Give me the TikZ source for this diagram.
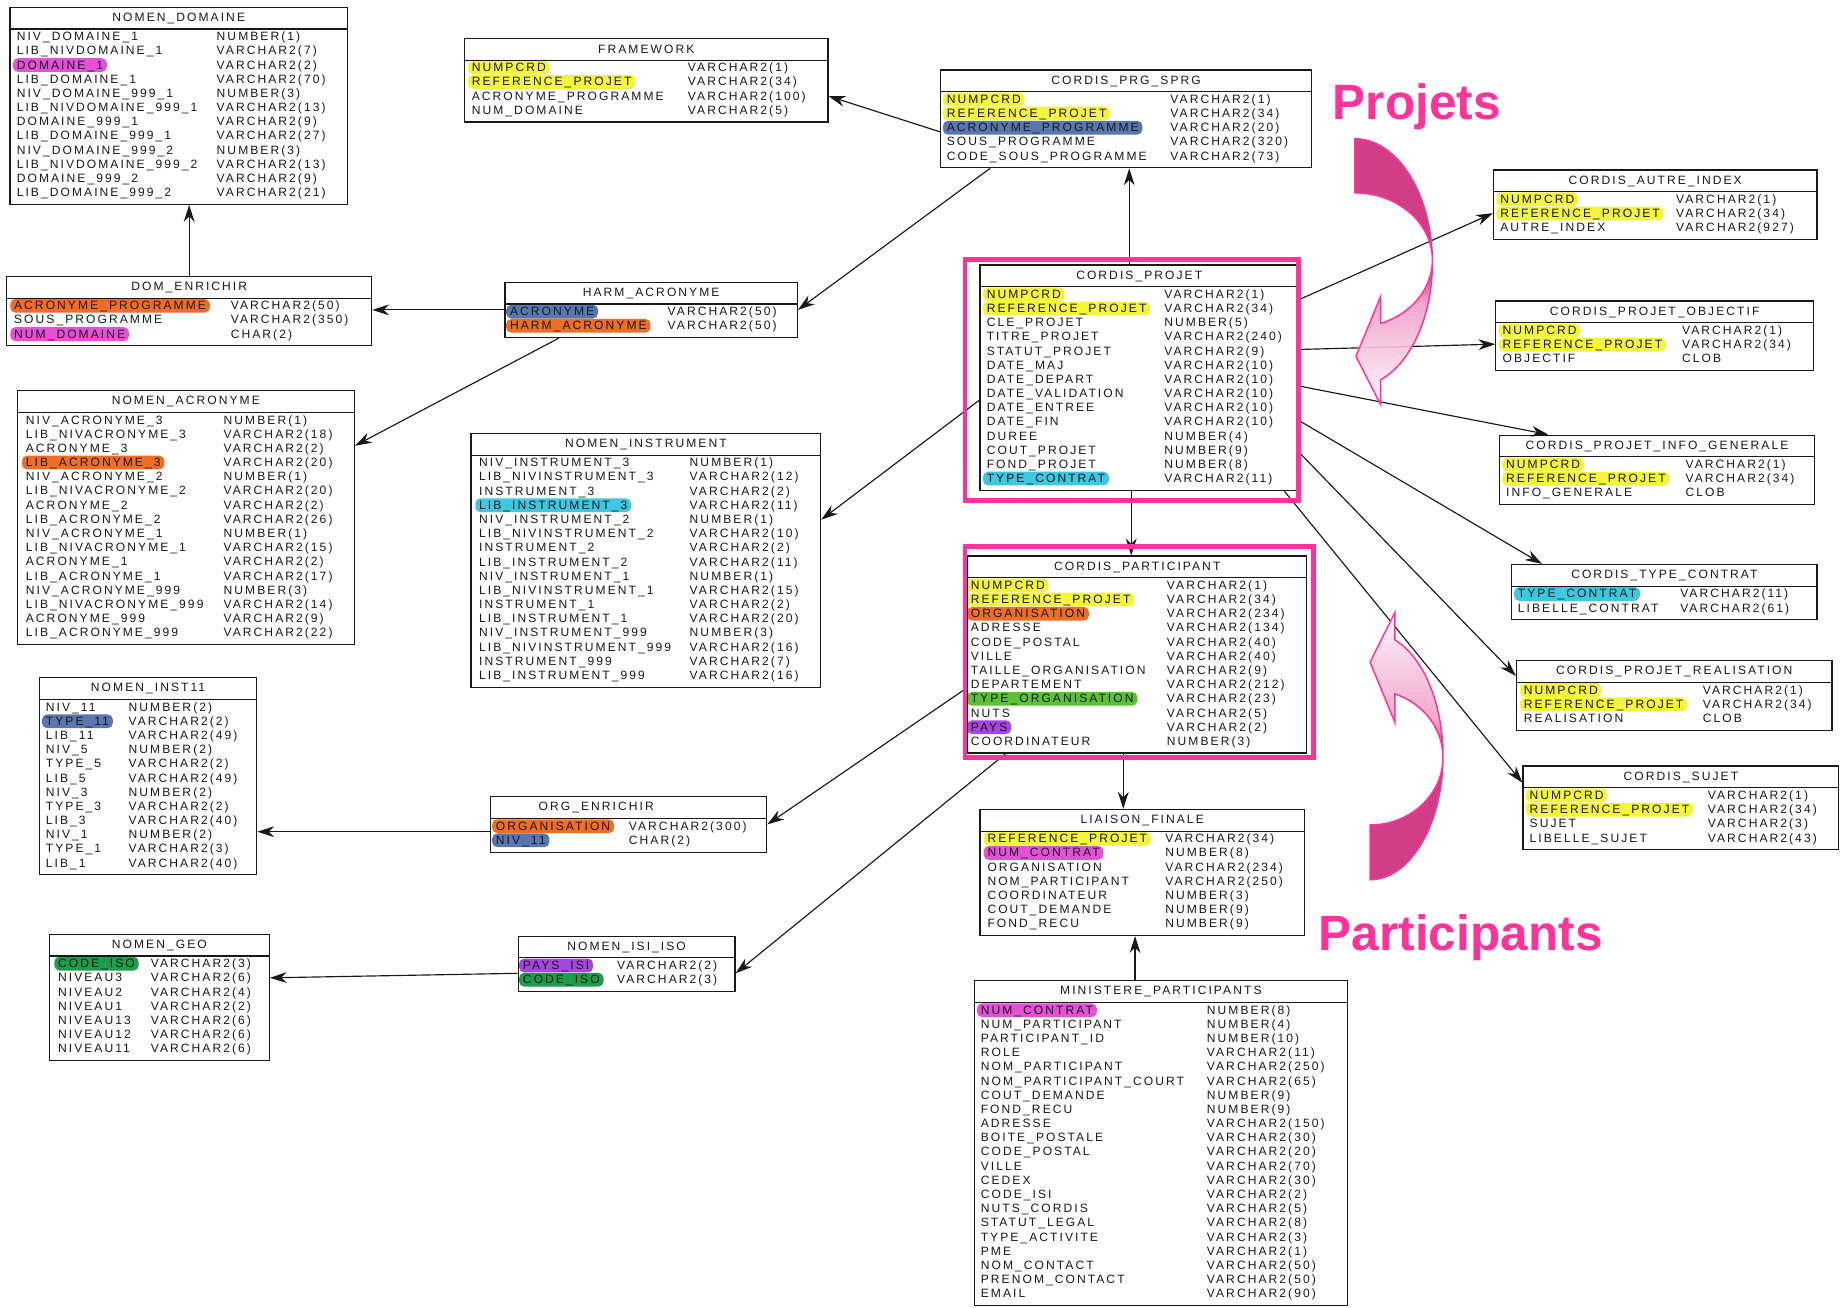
\documentclass[tikz,border=0pt]{standalone}
\usepackage{fontspec}
\setmainfont{Liberation Sans}
\newfontfamily\tabfamily[LetterSpace=17]{Liberation Sans}
\usetikzlibrary{arrows.meta,fit,calc}

\definecolor{ink}{RGB}{25,25,25}
\definecolor{hlyellow}{RGB}{244,244,60}
\definecolor{hlpink}{RGB}{228,80,215}
\definecolor{hlorange}{RGB}{240,110,35}
\definecolor{hlblue}{RGB}{90,118,175}
\definecolor{hlcyan}{RGB}{60,200,225}
\definecolor{hlgreen}{RGB}{90,195,50}
\definecolor{hlpurple}{RGB}{165,70,225}
\definecolor{hldkgreen}{RGB}{30,155,75}
\definecolor{framepink}{RGB}{255,51,153}
\definecolor{arrowdark}{RGB}{204,42,122}
\definecolor{arrowmid}{RGB}{240,160,200}
\definecolor{arrowlight}{RGB}{255,244,249}

\pgfdeclareverticalshading{projfade}{100bp}{color(0bp)=(arrowlight); color(25bp)=(arrowlight); color(44bp)=(arrowmid); color(50bp)=(arrowdark); color(100bp)=(arrowdark)}
\pgfdeclareverticalshading{partfade}{100bp}{color(0bp)=(arrowdark); color(49bp)=(arrowdark); color(55bp)=(arrowmid); color(75bp)=(arrowlight); color(100bp)=(arrowlight)}

\newcommand\tabfont{\tabfamily\fontsize{7.3}{8}\selectfont}
\newcommand\rowpitch{12.05}

% #1 name, #2 left, #3 top, #4 right, #5 field x, #6 type x, #7 title x, #8 title, #9 rows
\newcommand\dbtable[9]{%
  \foreach \fname/\ftype/\fhl [count=\rowi] in {#9} {
    \node[fieldname, fill=\fhl] at ({#5},{#3+25+(\rowi-1)*\rowpitch}) {\fname};
    \node[fieldtype] at ({#6},{#3+25+(\rowi-1)*\rowpitch}) {\ftype};
    \xdef\nrows{\rowi}
  }
  \pgfmathsetmacro\tbottom{#3+35+(\nrows-1)*\rowpitch}
  \node[tablebox, fit={(#2,#3) (#4,\tbottom)}] (#1) {};
  \draw[tableline] (#2,#3+18.5) -- (#4,#3+18.5);
  \node[tabletitle] at (#7,#3+9.5) {#8};
}

\tikzset{
  fieldname/.style={anchor=west, xshift=-2pt, inner xsep=2.3pt, inner ysep=1.3pt, rounded corners=3pt,
    text height=5.3pt, text depth=0.4pt, font=\tabfont, text=ink},
  fieldtype/.style={anchor=west, inner sep=0pt, text height=5.3pt, text depth=0.4pt, font=\tabfont, text=ink},
  tablebox/.style={draw=ink, line width=0.7pt, inner sep=0pt},
  tableline/.style={draw=ink, line width=0.7pt},
  tabletitle/.style={font=\tabfont, text=ink, inner sep=0pt},
  fk/.style={draw=ink, line width=0.7pt, -{Stealth[length=3.6mm, width=2.3mm]}},
  pinkframe/.style={draw=framepink, line width=2.8pt},
  banner/.style={font=\bfseries\fontsize{30}{34}\selectfont, text=framepink, inner sep=0pt, anchor=base west},
}

\begin{document}
\begin{tikzpicture}[x=0.025cm, y=-0.025cm]
  \useasboundingbox[fill=white] (0,0) rectangle (1568,1112);

  % nomenclatures, left side
  \dbtable{domaine}{8.5}{6.2}{295.5}{13.6}{184}{152}{NOMEN\_DOMAINE}{
    NIV\_DOMAINE\_1/NUMBER(1)/none,
    LIB\_NIVDOMAINE\_1/VARCHAR2(7)/none,
    DOMAINE\_1/VARCHAR2(2)/hlpink,
    LIB\_DOMAINE\_1/VARCHAR2(70)/none,
    NIV\_DOMAINE\_999\_1/NUMBER(3)/none,
    LIB\_NIVDOMAINE\_999\_1/VARCHAR2(13)/none,
    DOMAINE\_999\_1/VARCHAR2(9)/none,
    LIB\_DOMAINE\_999\_1/VARCHAR2(27)/none,
    NIV\_DOMAINE\_999\_2/NUMBER(3)/none,
    LIB\_NIVDOMAINE\_999\_2/VARCHAR2(13)/none,
    DOMAINE\_999\_2/VARCHAR2(9)/none,
    LIB\_DOMAINE\_999\_2/VARCHAR2(21)/none}

  \dbtable{domenr}{5.7}{235}{316}{11.3}{196}{160.9}{DOM\_ENRICHIR}{
    ACRONYME\_PROGRAMME/VARCHAR2(50)/hlorange,
    SOUS\_PROGRAMME/VARCHAR2(350)/none,
    NUM\_DOMAINE/CHAR(2)/hlpink}

  \dbtable{framework}{395}{32.6}{704}{400.5}{584.7}{549.5}{FRAMEWORK}{
    NUMPCRD/VARCHAR2(1)/hlyellow,
    REFERENCE\_PROJET/VARCHAR2(34)/hlyellow,
    ACRONYME\_PROGRAMME/VARCHAR2(100)/none,
    NUM\_DOMAINE/VARCHAR2(5)/none}

  \dbtable{prg}{800}{59.5}{1115}{804.4}{995}{957.5}{CORDIS\_PRG\_SPRG}{
    NUMPCRD/VARCHAR2(1)/hlyellow,
    REFERENCE\_PROJET/VARCHAR2(34)/hlyellow,
    ACRONYME\_PROGRAMME/VARCHAR2(20)/hlblue,
    SOUS\_PROGRAMME/VARCHAR2(320)/none,
    CODE\_SOUS\_PROGRAMME/VARCHAR2(73)/none}

  \dbtable{harm}{429.4}{240}{678}{433}{567.5}{553.7}{HARM\_ACRONYME}{
    ACRONYME/VARCHAR2(50)/hlblue,
    HARM\_ACRONYME/VARCHAR2(50)/hlorange}

  \dbtable{acronyme}{14.7}{332.2}{301.3}{21.3}{189.9}{158}{NOMEN\_ACRONYME}{
    NIV\_ACRONYME\_3/NUMBER(1)/none,
    LIB\_NIVACRONYME\_3/VARCHAR2(18)/none,
    ACRONYME\_3/VARCHAR2(2)/none,
    LIB\_ACRONYME\_3/VARCHAR2(20)/hlorange,
    NIV\_ACRONYME\_2/NUMBER(1)/none,
    LIB\_NIVACRONYME\_2/VARCHAR2(20)/none,
    ACRONYME\_2/VARCHAR2(2)/none,
    LIB\_ACRONYME\_2/VARCHAR2(26)/none,
    NIV\_ACRONYME\_1/NUMBER(1)/none,
    LIB\_NIVACRONYME\_1/VARCHAR2(15)/none,
    ACRONYME\_1/VARCHAR2(2)/none,
    LIB\_ACRONYME\_1/VARCHAR2(17)/none,
    NIV\_ACRONYME\_999/NUMBER(3)/none,
    LIB\_NIVACRONYME\_999/VARCHAR2(14)/none,
    ACRONYME\_999/VARCHAR2(9)/none,
    LIB\_ACRONYME\_999/VARCHAR2(22)/none}

  \dbtable{instrument}{400.5}{368.5}{697.8}{406.7}{586.2}{549.2}{NOMEN\_INSTRUMENT}{
    NIV\_INSTRUMENT\_3/NUMBER(1)/none,
    LIB\_NIVINSTRUMENT\_3/VARCHAR2(12)/none,
    INSTRUMENT\_3/VARCHAR2(2)/none,
    LIB\_INSTRUMENT\_3/VARCHAR2(11)/hlcyan,
    NIV\_INSTRUMENT\_2/NUMBER(1)/none,
    LIB\_NIVINSTRUMENT\_2/VARCHAR2(10)/none,
    INSTRUMENT\_2/VARCHAR2(2)/none,
    LIB\_INSTRUMENT\_2/VARCHAR2(11)/none,
    NIV\_INSTRUMENT\_1/NUMBER(1)/none,
    LIB\_NIVINSTRUMENT\_1/VARCHAR2(15)/none,
    INSTRUMENT\_1/VARCHAR2(2)/none,
    LIB\_INSTRUMENT\_1/VARCHAR2(20)/none,
    NIV\_INSTRUMENT\_999/NUMBER(3)/none,
    LIB\_NIVINSTRUMENT\_999/VARCHAR2(16)/none,
    INSTRUMENT\_999/VARCHAR2(7)/none,
    LIB\_INSTRUMENT\_999/VARCHAR2(16)/none}

  \dbtable{inst11}{33.4}{576.3}{218.3}{38.3}{109.1}{125.9}{NOMEN\_INST11}{
    NIV\_11/NUMBER(2)/none,
    TYPE\_11/VARCHAR2(2)/hlblue,
    LIB\_11/VARCHAR2(49)/none,
    NIV\_5/NUMBER(2)/none,
    TYPE\_5/VARCHAR2(2)/none,
    LIB\_5/VARCHAR2(49)/none,
    NIV\_3/NUMBER(2)/none,
    TYPE\_3/VARCHAR2(2)/none,
    LIB\_3/VARCHAR2(40)/none,
    NIV\_1/NUMBER(2)/none,
    TYPE\_1/VARCHAR2(3)/none,
    LIB\_1/VARCHAR2(40)/none}

  \dbtable{orgenr}{417}{677.5}{652}{421}{534.5}{507}{ORG\_ENRICHIR}{
    ORGANISATION/VARCHAR2(300)/hlorange,
    NIV\_11/CHAR(2)/hlblue}

  \dbtable{geo}{42}{794.4}{229}{48.7}{128}{135.5}{NOMEN\_GEO}{
    CODE\_ISO/VARCHAR2(3)/hldkgreen,
    NIVEAU3/VARCHAR2(6)/none,
    NIVEAU2/VARCHAR2(4)/none,
    NIVEAU1/VARCHAR2(2)/none,
    NIVEAU13/VARCHAR2(6)/none,
    NIVEAU12/VARCHAR2(6)/none,
    NIVEAU11/VARCHAR2(6)/none}

  \dbtable{isiiso}{440.6}{796}{625}{444}{524.5}{532.8}{NOMEN\_ISI\_ISO}{
    PAYS\_ISI/VARCHAR2(2)/hlpurple,
    CODE\_ISO/VARCHAR2(3)/hldkgreen}

  % projets and participants
  \dbtable{projet}{833.3}{225.3}{1104}{838.4}{989.8}{968.7}{CORDIS\_PROJET}{
    NUMPCRD/VARCHAR2(1)/hlyellow,
    REFERENCE\_PROJET/VARCHAR2(34)/hlyellow,
    CLE\_PROJET/NUMBER(5)/none,
    TITRE\_PROJET/VARCHAR2(240)/none,
    STATUT\_PROJET/VARCHAR2(9)/none,
    DATE\_MAJ/VARCHAR2(10)/none,
    DATE\_DEPART/VARCHAR2(10)/none,
    DATE\_VALIDATION/VARCHAR2(10)/none,
    DATE\_ENTREE/VARCHAR2(10)/none,
    DATE\_FIN/VARCHAR2(10)/none,
    DUREE/NUMBER(4)/none,
    COUT\_PROJET/NUMBER(9)/none,
    FOND\_PROJET/NUMBER(8)/none,
    TYPE\_CONTRAT/VARCHAR2(11)/hlcyan}

  \dbtable{participant}{823}{472.8}{1111}{824.8}{992}{967}{CORDIS\_PARTICIPANT}{
    NUMPCRD/VARCHAR2(1)/hlyellow,
    REFERENCE\_PROJET/VARCHAR2(34)/hlyellow,
    ORGANISATION/VARCHAR2(234)/hlorange,
    ADRESSE/VARCHAR2(134)/none,
    CODE\_POSTAL/VARCHAR2(40)/none,
    VILLE/VARCHAR2(40)/none,
    TAILLE\_ORGANISATION/VARCHAR2(9)/none,
    DEPARTEMENT/VARCHAR2(212)/none,
    TYPE\_ORGANISATION/VARCHAR2(23)/hlgreen,
    NUTS/VARCHAR2(5)/none,
    PAYS/VARCHAR2(2)/hlpurple,
    COORDINATEUR/NUMBER(3)/none}

  \dbtable{liaison}{833.3}{688.2}{1109}{839}{990.6}{971.2}{LIAISON\_FINALE}{
    REFERENCE\_PROJET/VARCHAR2(34)/hlyellow,
    NUM\_CONTRAT/NUMBER(8)/hlpink,
    ORGANISATION/VARCHAR2(234)/none,
    NOM\_PARTICIPANT/VARCHAR2(250)/none,
    COORDINATEUR/NUMBER(3)/none,
    COUT\_DEMANDE/NUMBER(9)/none,
    FOND\_RECU/NUMBER(9)/none}

  \dbtable{ministere}{828.5}{834}{1145.7}{833.3}{1026}{987.1}{MINISTERE\_PARTICIPANTS}{
    NUM\_CONTRAT/NUMBER(8)/hlpink,
    NUM\_PARTICIPANT/NUMBER(4)/none,
    PARTICIPANT\_ID/NUMBER(10)/none,
    ROLE/VARCHAR2(11)/none,
    NOM\_PARTICIPANT/VARCHAR2(250)/none,
    NOM\_PARTICIPANT\_COURT/VARCHAR2(65)/none,
    COUT\_DEMANDE/NUMBER(9)/none,
    FOND\_RECU/NUMBER(9)/none,
    ADRESSE/VARCHAR2(150)/none,
    BOITE\_POSTALE/VARCHAR2(30)/none,
    CODE\_POSTAL/VARCHAR2(20)/none,
    VILLE/VARCHAR2(70)/none,
    CEDEX/VARCHAR2(30)/none,
    CODE\_ISI/VARCHAR2(2)/none,
    NUTS\_CORDIS/VARCHAR2(5)/none,
    STATUT\_LEGAL/VARCHAR2(8)/none,
    TYPE\_ACTIVITE/VARCHAR2(3)/none,
    PME/VARCHAR2(1)/none,
    NOM\_CONTACT/VARCHAR2(50)/none,
    PRENOM\_CONTACT/VARCHAR2(50)/none,
    EMAIL/VARCHAR2(90)/none}

  % project detail tables, right side
  \dbtable{autre}{1270}{144.5}{1545}{1275}{1425}{1407.5}{CORDIS\_AUTRE\_INDEX}{
    NUMPCRD/VARCHAR2(1)/hlyellow,
    REFERENCE\_PROJET/VARCHAR2(34)/hlyellow,
    AUTRE\_INDEX/VARCHAR2(927)/none}

  \dbtable{objectif}{1272}{256}{1542}{1277}{1430}{1407}{CORDIS\_PROJET\_OBJECTIF}{
    NUMPCRD/VARCHAR2(1)/hlyellow,
    REFERENCE\_PROJET/VARCHAR2(34)/hlyellow,
    OBJECTIF/CLOB/none}

  \dbtable{info}{1275}{370}{1543}{1280}{1433}{1409}{CORDIS\_PROJET\_INFO\_GENERALE}{
    NUMPCRD/VARCHAR2(1)/hlyellow,
    REFERENCE\_PROJET/VARCHAR2(34)/hlyellow,
    INFO\_GENERALE/CLOB/none}

  \dbtable{typec}{1285.5}{480}{1545}{1290}{1428.5}{1415.3}{CORDIS\_TYPE\_CONTRAT}{
    TYPE\_CONTRAT/VARCHAR2(11)/hlcyan,
    LIBELLE\_CONTRAT/VARCHAR2(61)/none}

  \dbtable{realis}{1289.5}{561.8}{1557.8}{1295}{1447.7}{1423.7}{CORDIS\_PROJET\_REALISATION}{
    NUMPCRD/VARCHAR2(1)/hlyellow,
    REFERENCE\_PROJET/VARCHAR2(34)/hlyellow,
    REALISATION/CLOB/none}

  \dbtable{sujet}{1295}{651.4}{1563.5}{1300}{1452}{1429.3}{CORDIS\_SUJET}{
    NUMPCRD/VARCHAR2(1)/hlyellow,
    REFERENCE\_PROJET/VARCHAR2(34)/hlyellow,
    SUJET/VARCHAR2(3)/none,
    LIBELLE\_SUJET/VARCHAR2(43)/none}

  % links
  \draw[fk] (domenr.north) -- (domenr.north |- domaine.south);
  \draw[fk] (harm.west) -- (harm.west -| domenr.east);
  \draw[fk] (prg.184.7) -- (framework.355.3);
  \draw[fk] (prg.200.8) -- (harm.east);
  \draw[fk] (projet.95.2) -- (projet.95.2 |- prg.south);
  \draw[fk] (harm.197.7) -- (acronyme.23.8);
  \draw[fk] (projet.188.6) -- (instrument.13);
  \draw[fk] (participant.191.3) -- (orgenr.east);
  \draw[fk] (participant.217.05) -- (isiiso.355.7);
  \draw[fk] (projet.266.6) -- (projet.266.6 |- participant.north);
  \draw[fk] (participant.262.5) -- (participant.262.5 |- liaison.north);
  \draw[fk] (ministere.99.3) -- (ministere.99.3 |- liaison.south);
  \draw[fk] (orgenr.183.7) -- (orgenr.183.7 -| inst11.east);
  \draw[fk] (isiiso.185.3) -- (geo.10.9);
  \draw[fk] (projet.26.05) -- (autre.183.7);
  \draw[fk] (projet.10.9) -- (objectif.183.35);
  \draw[fk] (projet.357) -- (info.162.6);
  \draw[fk] (projet.345.7) -- (typec.167.3);
  \draw[fk] (projet.335.1) -- (realis.173.5);
  \draw[fk] (projet.322.6) -- (sujet.171.9);

  % pink frames
  \draw[pinkframe] (820.6,220.4) rectangle (1104,425.8);
  \draw[pinkframe] (820.6,464.9) rectangle (1116.8,644);

  % curved arrows
  \shadedraw[shading=projfade, draw=framepink, line width=0.9pt, fill opacity=0.9]
    (1152,118) .. controls (1188.5,118) and (1218,165.2) .. (1218,223.5)
    .. controls (1218,268.2) and (1200.3,308.1) .. (1174,323)
    -- (1174,344) -- (1153,303) -- (1174,252) -- (1174,275)
    .. controls (1200.3,266.9) and (1218,245.3) .. (1218,221.1)
    .. controls (1218,189.6) and (1188.5,164) .. (1152,164) -- cycle;
  \shadedraw[shading=partfade, draw=framepink, line width=0.9pt, fill opacity=0.9]
    (1165,748) .. controls (1199.2,748) and (1227,700.9) .. (1227,642.9)
    .. controls (1227,598.6) and (1210.6,559) .. (1186,544)
    -- (1186,521) -- (1165,563) -- (1186,614) -- (1186,590)
    .. controls (1210.6,598.2) and (1227,619.8) .. (1227,644)
    .. controls (1227,675.7) and (1199.2,701.5) .. (1165,701.5) -- cycle;

  \node[banner] (projets) at (1133,102) {Projets};
  \node[banner] (participants) at (1121,808) {Participants};
\end{tikzpicture}
\end{document}
